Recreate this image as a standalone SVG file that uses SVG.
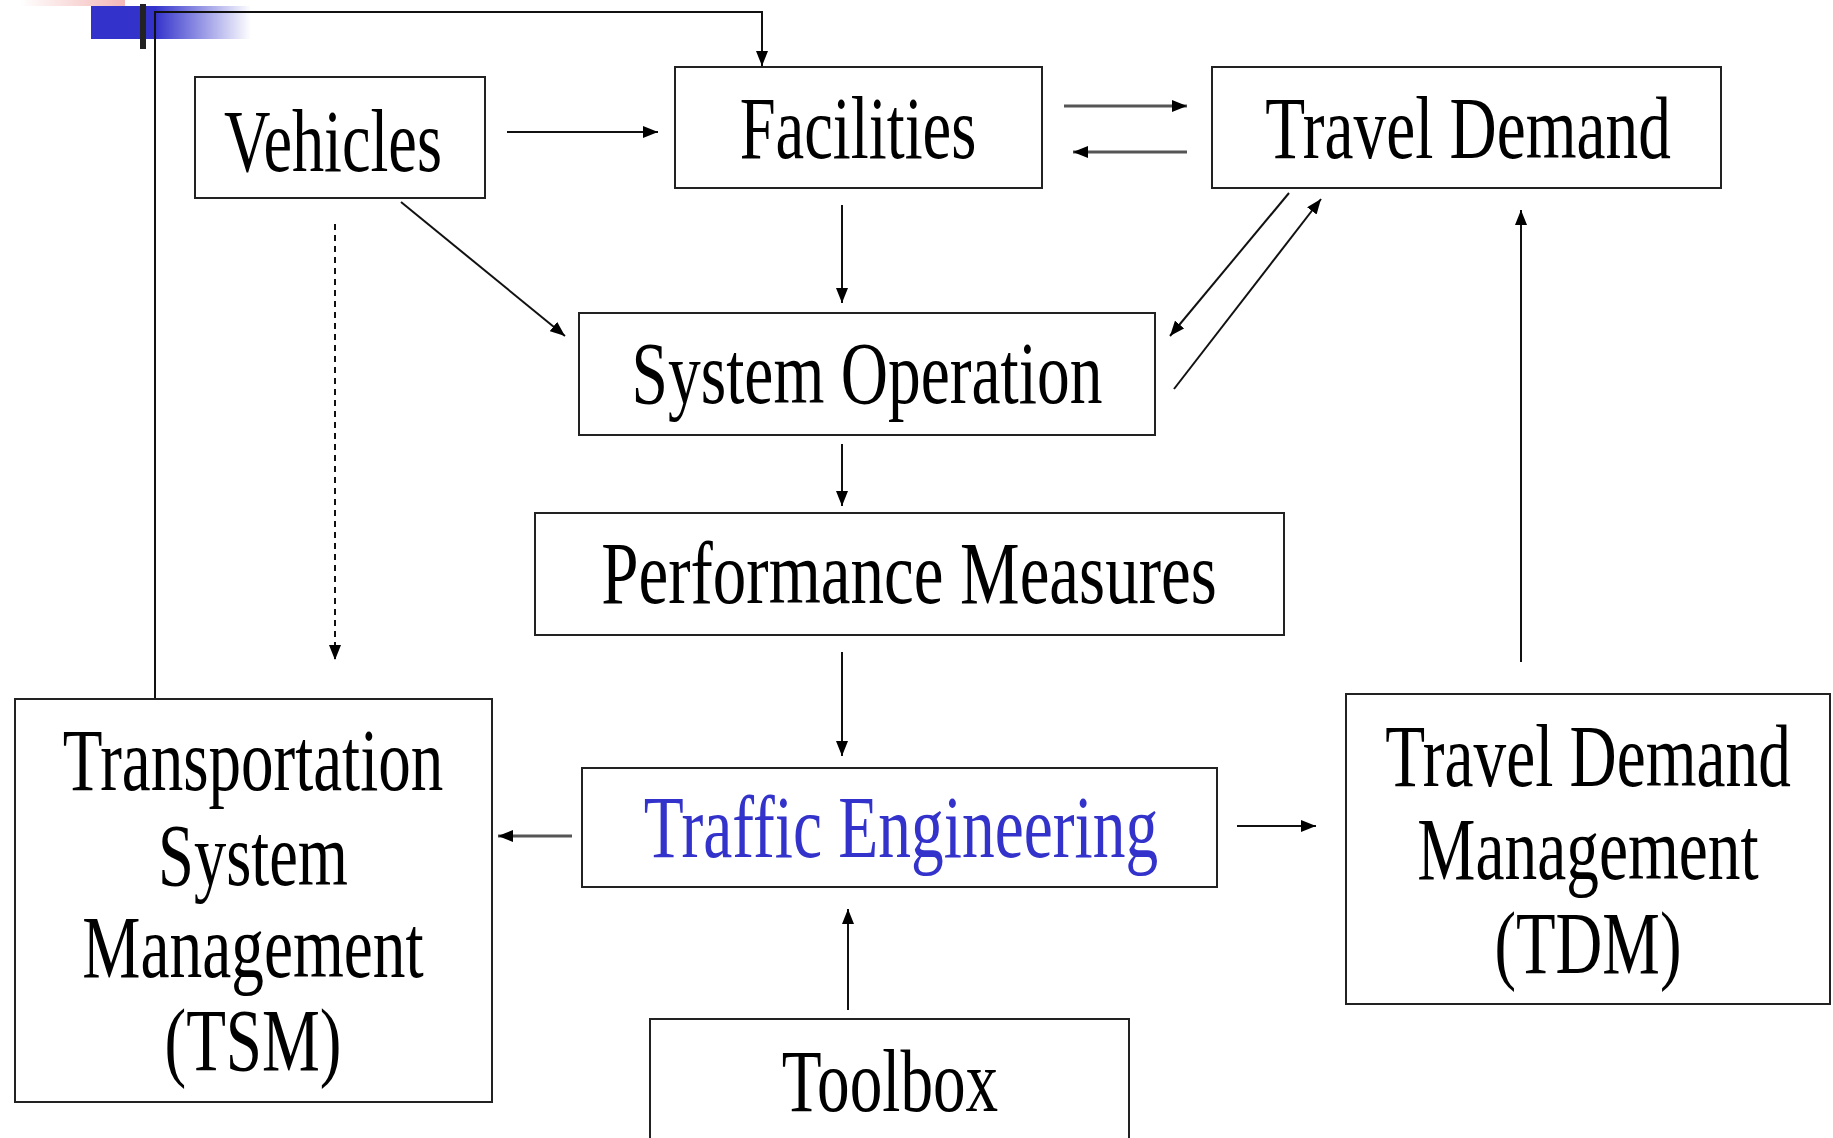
<svg xmlns="http://www.w3.org/2000/svg" width="1833" height="1138" viewBox="0 0 1833 1138">
<style>
.box{fill:#fff;stroke:#222;stroke-width:2}
.t{font-family:"Liberation Serif","Times New Roman",serif;font-size:88px;fill:#000;text-anchor:middle}
.blue{fill:#3333cc}
.c{fill:none;stroke:#111;stroke-width:2}
.g{fill:none;stroke:#555;stroke-width:3}
</style>
<defs>
<marker id="ah" markerUnits="userSpaceOnUse" markerWidth="16" markerHeight="12" refX="15" refY="6" orient="auto"><path d="M0,0 L15,6 L0,12 z" fill="#000"/></marker>
<linearGradient id="bg" x1="0" x2="1" y1="0" y2="0"><stop offset="0" stop-color="#3333cc"/><stop offset="0.4" stop-color="#3333cc"/><stop offset="1" stop-color="#3333cc" stop-opacity="0"/></linearGradient>
<linearGradient id="pg" x1="0" x2="1" y1="0" y2="0"><stop offset="0" stop-color="#f4b8b8" stop-opacity="0"/><stop offset="1" stop-color="#f4b8b8"/></linearGradient>
</defs>
<rect width="1833" height="1138" fill="#fff"/>
<g id="decoration">
<rect x="20" y="0" width="105" height="6" fill="url(#pg)"/>
<rect x="91" y="6" width="160" height="33" fill="url(#bg)"/>
<rect x="140" y="4" width="6" height="45" fill="#222"/>
</g>
<g id="connectors">
<polyline class="c" points="155,699 155,12 762,12 762,66" marker-end="url(#ah)"/>
<line class="c" x1="507" y1="132" x2="658" y2="132" marker-end="url(#ah)"/>
<line class="g" x1="1064" y1="106" x2="1187" y2="106" marker-end="url(#ah)"/>
<line class="g" x1="1187" y1="152" x2="1073" y2="152" marker-end="url(#ah)"/>
<line class="c" x1="842" y1="205" x2="842" y2="303" marker-end="url(#ah)"/>
<line class="c" x1="401" y1="202" x2="565" y2="336" marker-end="url(#ah)"/>
<line class="c" x1="1289" y1="193" x2="1170" y2="336" marker-end="url(#ah)"/>
<line class="c" x1="1174" y1="389" x2="1321" y2="199" marker-end="url(#ah)"/>
<line class="c" x1="335" y1="224" x2="335" y2="660" stroke-dasharray="6,5" marker-end="url(#ah)"/>
<line class="c" x1="842" y1="444" x2="842" y2="506" marker-end="url(#ah)"/>
<line class="c" x1="842" y1="652" x2="842" y2="756" marker-end="url(#ah)"/>
<line class="g" x1="572" y1="836" x2="498" y2="836" marker-end="url(#ah)"/>
<line class="c" x1="1237" y1="826" x2="1316" y2="826" marker-end="url(#ah)"/>
<line class="c" x1="1521" y1="662" x2="1521" y2="210" marker-end="url(#ah)"/>
<line class="c" x1="848" y1="1010" x2="848" y2="909" marker-end="url(#ah)"/>
</g>
<g id="vehicles"><rect class="box" x="195" y="77" width="290" height="121"/><text class="t" transform="translate(333,171) scale(0.731,1)">Vehicles</text></g>
<g id="facilities"><rect class="box" x="675" y="67" width="367" height="121"/><text class="t" transform="translate(858,158) scale(0.734,1)">Facilities</text></g>
<g id="travel-demand"><rect class="box" x="1212" y="67" width="509" height="121"/><text class="t" transform="translate(1468,158) scale(0.742,1)">Travel Demand</text></g>
<g id="system-operation"><rect class="box" x="579" y="313" width="576" height="122"/><text class="t" transform="translate(867,403) scale(0.744,1)">System Operation</text></g>
<g id="performance-measures"><rect class="box" x="535" y="513" width="749" height="122"/><text class="t" transform="translate(909,603) scale(0.761,1)">Performance Measures</text></g>
<g id="traffic-engineering"><rect class="box" x="582" y="768" width="635" height="119"/><text class="t blue" transform="translate(901,857) scale(0.744,1)">Traffic Engineering</text></g>
<g id="tsm"><rect class="box" x="15" y="699" width="477" height="403"/>
<text class="t" transform="translate(253,790) scale(0.739,1)">Transportation</text>
<text class="t" transform="translate(253,885) scale(0.733,1)">System</text>
<text class="t" transform="translate(253,977) scale(0.743,1)">Management</text>
<text class="t" transform="translate(253,1070) scale(0.739,1)">(TSM)</text></g>
<g id="tdm"><rect class="box" x="1346" y="694" width="484" height="310"/>
<text class="t" transform="translate(1588,786) scale(0.742,1)">Travel Demand</text>
<text class="t" transform="translate(1588,879) scale(0.743,1)">Management</text>
<text class="t" transform="translate(1588,973) scale(0.736,1)">(TDM)</text></g>
<g id="toolbox"><rect class="box" x="650" y="1019" width="479" height="130"/><text class="t" transform="translate(890,1111) scale(0.741,1)">Toolbox</text></g>
</svg>
